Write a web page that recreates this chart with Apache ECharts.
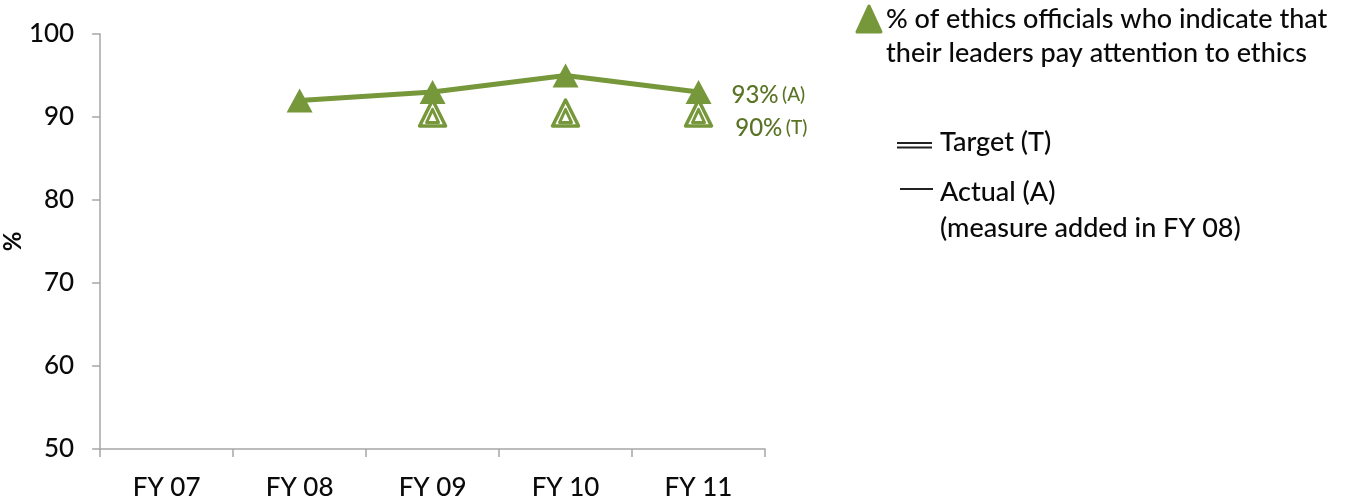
<!DOCTYPE html>
<html>
<head>
<meta charset="utf-8">
<script src="https://cdn.jsdelivr.net/npm/echarts@6/dist/echarts.min.js"></script>
<style>
  html, body { margin: 0; padding: 0; background: #ffffff; }
  #chart { width: 1352px; height: 503px; }
</style>
</head>
<body>
<div id="chart"></div>
<script>
// Fiscal years on the horizontal axis
const categories = ['FY 07', 'FY 08', 'FY 09', 'FY 10', 'FY 11'];
// Actual share of ethics officials (measure added in FY 08)
const actualValues = [null, 92, 93, 95, 93];
// Target share
const targetValues = [null, null, 90, 90, 90];
// Vertical axis range
const yTicks = [50, 60, 70, 80, 90, 100];

const GREEN = '#77973b';
const LABEL_GREEN = '#5a7426';
const FONT = 'Lato, "Open Sans", sans-serif';
const TEXT = '#0a0a0a';
const lastIdx = categories.length - 1;

const chart = echarts.init(document.getElementById('chart'), null, { renderer: 'canvas' });

const labelRich = {
  v: { fontFamily: FONT, fontSize: 24, fontWeight: 500, color: LABEL_GREEN },
  s: { fontFamily: FONT, fontSize: 19, fontWeight: 500, color: LABEL_GREEN }
};

const actualData = actualValues.map((v, i) => {
  if (i === lastIdx) {
    return {
      value: v,
      label: {
        show: true,
        position: 'right',
        distance: 20,
        offset: [0, 3],
        formatter: p => '{v|' + p.value + '%} {s|(A)}',
        rich: labelRich
      }
    };
  }
  return v;
});

const targetOuterData = targetValues.map((v, i) => {
  if (i === lastIdx) {
    return {
      value: v,
      label: {
        show: true,
        position: 'right',
        distance: 22,
        offset: [0, 15],
        formatter: p => '{v|' + p.value + '%} {s|(T)}',
        rich: labelRich
      }
    };
  }
  return v;
});

const option = {
  animation: false,
  backgroundColor: '#ffffff',
  grid: { left: 98, right: 587, top: 34, bottom: 54, containLabel: false },
  xAxis: {
    type: 'category',
    data: categories,
    boundaryGap: true,
    axisLine: { show: true, lineStyle: { color: '#a6a6a6', width: 1.5 } },
    axisTick: { show: true, alignWithLabel: false, length: 8, lineStyle: { color: '#a6a6a6', width: 1.5 } },
    axisLabel: { margin: 26, fontFamily: FONT, fontSize: 26, fontWeight: 500, color: TEXT },
    splitLine: { show: false }
  },
  yAxis: {
    type: 'value',
    min: yTicks[0],
    max: yTicks[yTicks.length - 1],
    interval: 10,
    name: '%',
    nameLocation: 'middle',
    nameRotate: 90,
    nameGap: 66,
    nameTextStyle: { fontFamily: FONT, fontSize: 24, fontWeight: 'bold', color: TEXT },
    axisLine: { show: true, lineStyle: { color: '#a6a6a6', width: 1.5 } },
    axisTick: { show: true, inside: false, length: 8, lineStyle: { color: '#a6a6a6', width: 1.5 } },
    axisLabel: { margin: 26, fontFamily: FONT, fontSize: 26, fontWeight: 500, color: TEXT },
    splitLine: { show: false }
  },
  series: [
    {
      name: 'Target (T)',
      type: 'scatter',
      data: targetOuterData,
      symbol: 'triangle',
      symbolSize: [26, 26],
      symbolOffset: [0, -4],
      itemStyle: { color: '#ffffff', borderColor: GREEN, borderWidth: 3.5, borderJoin: 'round', opacity: 1 },
      z: 2
    },
    {
      name: 'Target inner',
      type: 'scatter',
      data: targetValues,
      symbol: 'triangle',
      symbolSize: [12, 13],
      symbolOffset: [0, -1],
      itemStyle: { color: '#ffffff', borderColor: GREEN, borderWidth: 3, borderJoin: 'round', opacity: 1 },
      z: 3
    },
    {
      name: 'Actual (A)',
      type: 'line',
      data: actualData,
      connectNulls: false,
      symbol: 'triangle',
      symbolSize: [26, 24],
      showAllSymbol: true,
      lineStyle: { color: GREEN, width: 5 },
      itemStyle: { color: GREEN, borderWidth: 0 },
      z: 4
    }
  ],
  graphic: [
    {
      type: 'polygon',
      shape: { points: [[869, 6], [881, 32], [857, 32]] },
      style: { fill: GREEN, stroke: GREEN, lineWidth: 3, lineJoin: 'round' }
    },
    {
      type: 'text', left: 886, top: 2,
      style: {
        text: '% of ethics officials who indicate that\ntheir leaders pay attention to ethics',
        font: '500 27px ' + FONT, fill: TEXT, lineHeight: 34
      }
    },
    { type: 'line', shape: { x1: 897, y1: 143, x2: 932, y2: 143 }, style: { stroke: '#222222', lineWidth: 2 } },
    { type: 'line', shape: { x1: 897, y1: 147.5, x2: 932, y2: 147.5 }, style: { stroke: '#222222', lineWidth: 2 } },
    {
      type: 'text', left: 940, top: 129,
      style: { text: 'Target (T)', font: '500 27px ' + FONT, fill: TEXT }
    },
    { type: 'line', shape: { x1: 900, y1: 189, x2: 933, y2: 189 }, style: { stroke: '#222222', lineWidth: 2 } },
    {
      type: 'text', left: 940, top: 174,
      style: {
        text: 'Actual (A)\n(measure added in FY 08)',
        font: '500 27px ' + FONT, fill: TEXT, lineHeight: 36
      }
    }
  ]
};

chart.setOption(option);
</script>
</body>
</html>
